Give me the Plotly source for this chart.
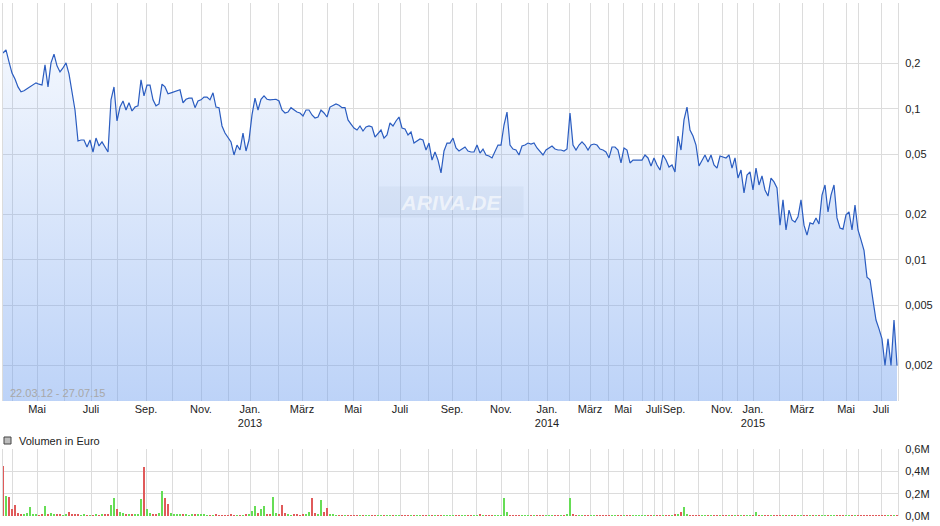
import plotly.graph_objects as go

# ---------------- data ----------------
# closing prices (EUR), one sample every 3 trading-day slots, 22.03.12 - 27.07.15
price = [
    0.235, 0.246, 0.205, 0.173, 0.158, 0.140, 0.130, 0.132, 0.136, 0.140, 0.144, 0.149, 0.146, 0.144, 0.196, 0.140, 0.202, 0.231, 0.193, 0.176,
    0.187, 0.202, 0.171, 0.128, 0.0985, 0.0614, 0.0623, 0.0623, 0.0560, 0.0623, 0.0519, 0.0642, 0.0569, 0.0605, 0.0560, 0.0519, 0.115, 0.140, 0.0833, 0.103,
    0.113, 0.0985, 0.110, 0.0970, 0.103, 0.105, 0.156, 0.122, 0.144, 0.144, 0.115, 0.105, 0.108, 0.146, 0.140, 0.126, 0.128, 0.130, 0.132, 0.134,
    0.110, 0.116, 0.118, 0.118, 0.102, 0.113, 0.115, 0.120, 0.120, 0.115, 0.128, 0.103, 0.102, 0.0772, 0.0693, 0.0652, 0.0605, 0.0496, 0.0577, 0.0535,
    0.0693, 0.0527, 0.0623, 0.0913, 0.118, 0.0985, 0.116, 0.122, 0.116, 0.115, 0.115, 0.116, 0.113, 0.0985, 0.0941, 0.0955, 0.102, 0.0985, 0.0955, 0.0941,
    0.0899, 0.0985, 0.0985, 0.0913, 0.0872, 0.0885, 0.0985, 0.0941, 0.0885, 0.103, 0.105, 0.108, 0.106, 0.102, 0.102, 0.0846, 0.0795, 0.0748, 0.0726, 0.0772,
    0.0715, 0.0760, 0.0772, 0.0760, 0.0652, 0.0683, 0.0726, 0.0642, 0.0673, 0.0808, 0.0772, 0.0833, 0.0885, 0.0748, 0.0737, 0.0673, 0.0704, 0.0595, 0.0614, 0.0633,
    0.0623, 0.0535, 0.0595, 0.0459, 0.0519, 0.0459, 0.0377, 0.0527, 0.0595, 0.0595, 0.0642, 0.0552, 0.0527, 0.0543, 0.0560, 0.0527, 0.0519, 0.0519, 0.0577, 0.0511,
    0.0543, 0.0496, 0.0488, 0.0474, 0.0519, 0.0577, 0.0577, 0.0783, 0.0955, 0.0577, 0.0543, 0.0535, 0.0496, 0.0569, 0.0577, 0.0595, 0.0586, 0.0595, 0.0552, 0.0519,
    0.0496, 0.0535, 0.0552, 0.0569, 0.0543, 0.0535, 0.0535, 0.0527, 0.0543, 0.0941, 0.0577, 0.0535, 0.0577, 0.0605, 0.0577, 0.0535, 0.0577, 0.0586, 0.0577, 0.0543,
    0.0535, 0.0519, 0.0474, 0.0560, 0.0560, 0.0535, 0.0439, 0.0552, 0.0535, 0.0439, 0.0459, 0.0459, 0.0459, 0.0459, 0.0496, 0.0474, 0.0419, 0.0474, 0.0426, 0.0394,
    0.0496, 0.0459, 0.0413, 0.0426, 0.0383, 0.0662, 0.0535, 0.0846, 0.103, 0.0726, 0.0662, 0.0577, 0.0419, 0.0459, 0.0496, 0.0446, 0.0496, 0.0426, 0.0406, 0.0488,
    0.0481, 0.0474, 0.0496, 0.0406, 0.0474, 0.0349, 0.0394, 0.0278, 0.0365, 0.0383, 0.0291, 0.0406, 0.0314, 0.0360, 0.0291, 0.0265, 0.0349, 0.0329, 0.0300, 0.0170,
    0.0250, 0.0158, 0.0214, 0.0184, 0.0178, 0.0193, 0.0250, 0.0170, 0.0146, 0.0176, 0.0173, 0.0190, 0.0173, 0.0269, 0.0314, 0.0208, 0.0269, 0.0314, 0.0190, 0.0163,
    0.0160, 0.0199, 0.0208, 0.0158, 0.0231, 0.0158, 0.0136, 0.0116, 0.0077, 0.0074, 0.0054, 0.0040, 0.0035, 0.0030, 0.0020, 0.0030, 0.0020, 0.0040, 0.0020,
]

# traded volume in thousand EUR, same samples
volume_k = [
    450, 180, 170, 60, 95, 30, 20, 15, 25, 80, 12, 10, 8, 15, 90, 20, 25, 15, 10, 12,
    8, 10, 40, 20, 15, 12, 8, 10, 6, 8, 5, 10, 8, 12, 10, 15, 100, 160, 60, 40,
    25, 15, 20, 10, 15, 12, 150, 440, 60, 25, 20, 15, 30, 220, 160, 110, 30, 15, 10, 12,
    15, 10, 8, 12, 10, 15, 12, 10, 8, 6, 8, 10, 8, 6, 8, 5, 10, 6, 5, 8,
    5, 10, 15, 45, 90, 30, 60, 90, 20, 10, 170, 30, 15, 100, 25, 10, 8, 10, 12, 8,
    10, 15, 40, 160, 30, 20, 140, 40, 70, 20, 10, 8, 6, 5, 6, 4, 5, 3, 4, 5,
    4, 3, 5, 4, 3, 6, 4, 3, 4, 5, 3, 8, 4, 3, 4, 3, 5, 4, 3, 4,
    5, 3, 4, 6, 3, 4, 3, 5, 4, 3, 4, 6, 3, 4, 5, 3, 4, 3, 5, 12,
    4, 3, 6, 4, 5, 3, 4, 160, 40, 8, 4, 5, 6, 3, 4, 8, 4, 3, 5, 4,
    3, 4, 5, 3, 4, 3, 6, 4, 10, 160, 10, 4, 3, 5, 4, 3, 4, 6, 3, 4,
    5, 3, 4, 3, 4, 5, 3, 4, 3, 4, 5, 3, 4, 3, 4, 3, 5, 4, 3, 4,
    5, 4, 8, 6, 15, 20, 40, 80, 15, 6, 4, 3, 5, 4, 3, 8, 4, 3, 5, 4,
    3, 4, 5, 3, 4, 3, 4, 5, 3, 4, 6, 35, 8, 4, 3, 5, 4, 3, 4, 3,
    5, 3, 4, 3, 4, 8, 3, 4, 5, 3, 4, 3, 4, 5, 3, 4, 3, 5, 4, 3,
    4, 3, 5, 4, 3, 4, 8, 4, 3, 5, 4, 3, 4, 3, 5, 4, 3, 4, 3,
]

# month starts on the trading-day index axis, with their labels
month_starts = [9, 34, 61, 88, 114, 143, 169, 198, 225, 247, 275, 299, 324, 350, 375, 397,
                425, 449, 473, 498, 525, 544, 566, 587, 605, 620, 639, 651, 659, 671, 695,
                719, 734, 750, 776, 799, 820, 843, 855, 878]
month_labels = ["", "Mai", "", "Juli", "", "Sep.", "", "Nov.", "", "Jan.<br>2013", "", "März",
                "", "Mai", "", "Juli", "", "Sep.", "", "Nov.", "", "Jan.<br>2014", "", "März",
                "", "Mai", "", "Juli", "", "Sep.", "", "Nov.", "", "Jan.<br>2015", "", "März",
                "", "Mai", "", "Juli"]

price_ticks = [0.002, 0.005, 0.01, 0.02, 0.05, 0.1, 0.2]
price_tick_text = ["0,002", "0,005", "0,01", "0,02", "0,05", "0,1", "0,2"]
vol_ticks = [0, 200000, 400000, 600000]
vol_tick_text = ["0,0M", "0,2M", "0,4M", "0,6M"]
period_text = "22.03.12 - 27.07.15"

# ---------------- figure ----------------
STEP = 3
x = list(range(0, STEP * len(price), STEP))
volume = [v * 1000 for v in volume_k]
vol_colors = ["#e05a5a"] + [
    "#66dd55" if price[i] >= price[i - 1] else "#e05a5a" for i in range(1, len(price))
]

FONT = "Liberation Sans, Arial, sans-serif"
GRID = "#dcdcdc"

fig = go.Figure()

fig.add_trace(go.Scatter(
    x=x, y=price, mode="lines",
    line=dict(color="#2a5cc0", width=1.2),
    fill="tozeroy",
    fillgradient=dict(
        type="vertical",
        start=0.00117, stop=0.5,
        colorscale=[[0, "rgba(111,159,239,0.46)"], [1, "rgba(111,159,239,0.04)"]],
    ),
    xaxis="x", yaxis="y", hoverinfo="skip", showlegend=False,
))

fig.add_trace(go.Bar(
    x=x, y=volume, marker=dict(color=vol_colors, line=dict(width=0)),
    width=1.3, xaxis="x2", yaxis="y2", hoverinfo="skip", showlegend=False,
))

main_bottom = (516 - 401) / 513
vol_top = (516 - 449) / 513

fig.update_layout(
    width=940, height=526,
    margin=dict(l=3, r=42, t=3, b=10),
    paper_bgcolor="white", plot_bgcolor="white",
    font=dict(family=FONT, size=11, color="#222"),
    bargap=0,
    xaxis=dict(
        domain=[0, 1], range=[0, 895], anchor="y",
        tickmode="array", tickvals=month_starts, ticktext=month_labels,
        showgrid=True, gridcolor=GRID, gridwidth=1, zeroline=False,
        ticks="", tickangle=0, tickfont=dict(size=11, color="#222"),
        showline=False, automargin=False,
    ),
    yaxis=dict(
        domain=[main_bottom, 1], type="log", range=[-2.934, -0.298],
        side="right", tickmode="array", tickvals=price_ticks, ticktext=price_tick_text,
        showgrid=True, gridcolor=GRID, gridwidth=1, zeroline=False,
        ticks="", ticklabelstandoff=4, tickfont=dict(size=11, color="#222"),
        showline=True, linecolor=GRID, mirror=True, automargin=False,
    ),
    xaxis2=dict(
        domain=[0, 1], range=[0, 895], anchor="y2",
        tickmode="array", tickvals=month_starts, showticklabels=False,
        showgrid=True, gridcolor=GRID, gridwidth=1, zeroline=False, ticks="",
        automargin=False,
    ),
    yaxis2=dict(
        domain=[0, vol_top], range=[0, 600000],
        side="right", tickmode="array", tickvals=vol_ticks, ticktext=vol_tick_text,
        showgrid=True, gridcolor=GRID, gridwidth=1, zeroline=False,
        ticks="", ticklabelstandoff=4, tickfont=dict(size=11, color="#222"),
        showline=True, linecolor=GRID, mirror=True, automargin=False,
    ),
)

fig.add_annotation(
    text=period_text, xref="paper", yref="paper",
    x=(8 - 3) / 895, y=(516 - 393) / 513, xanchor="left", yanchor="middle",
    showarrow=False, font=dict(size=11, color="#a8a8a8"),
)
fig.add_annotation(
    text="Volumen in Euro", xref="paper", yref="paper",
    x=(17 - 3) / 895, y=(516 - 440.5) / 513, xanchor="left", yanchor="middle",
    showarrow=False, font=dict(size=11, color="#222"),
)
fig.add_shape(
    type="rect", xref="paper", yref="paper",
    x0=(4 - 3) / 895, x1=(11 - 3) / 895, y0=(516 - 444) / 513, y1=(516 - 437) / 513,
    fillcolor="#bdbdbd", line=dict(color="#444", width=1),
)
fig.add_annotation(
    text="<b><i>ARIVA.DE</i></b>", xref="paper", yref="paper",
    x=(451 - 3) / 895, y=(516 - 202) / 513, xanchor="center", yanchor="middle",
    showarrow=False, font=dict(size=21, color="rgba(255,255,255,0.6)"),
    bgcolor="rgba(150,165,195,0.10)", borderpad=2, width=140, height=26,
)

fig.write_html(
    "out.html",
    config={"displayModeBar": False},
    post_script="document.body.style.margin='0';document.body.style.overflow='hidden';",
)
